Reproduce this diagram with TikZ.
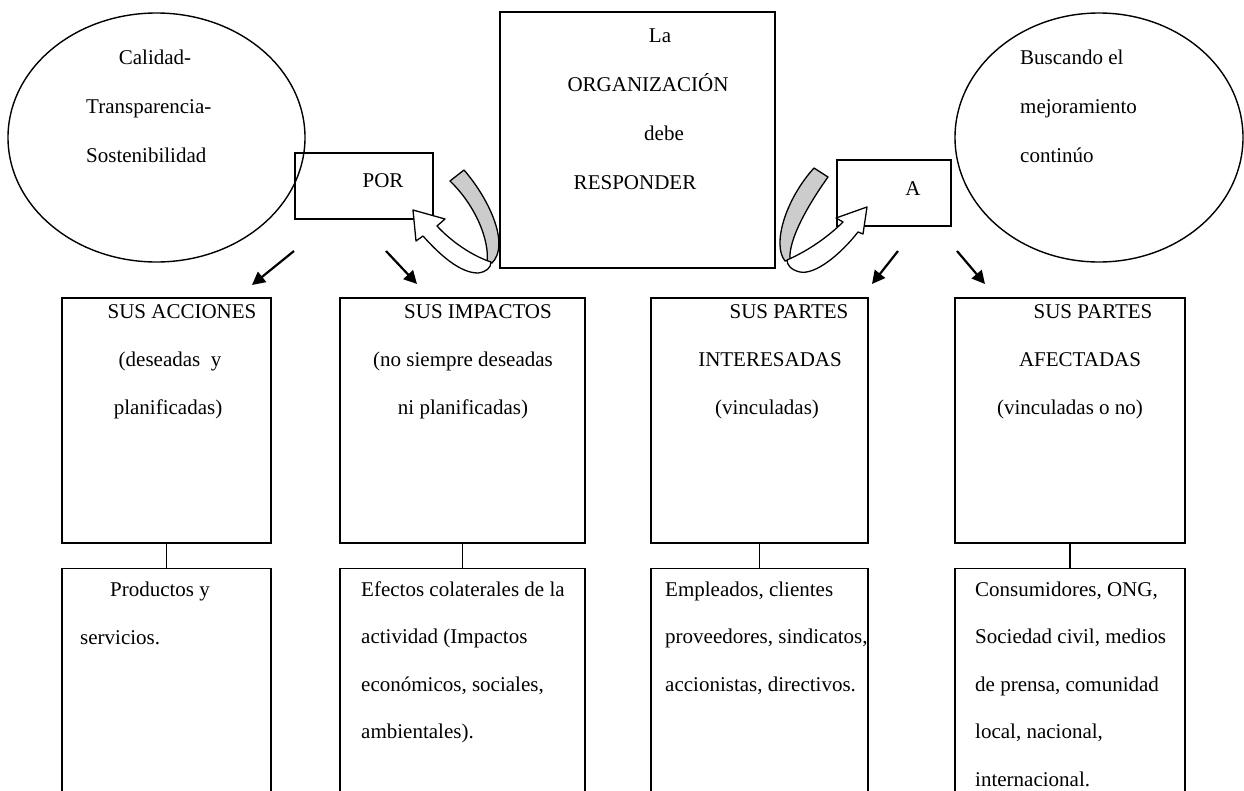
\documentclass[tikz,border=0pt]{standalone}
\usepackage{fontspec}
\setmainfont{Liberation Serif}
\usetikzlibrary{shapes.geometric,arrows.meta}
\begin{document}
\begin{tikzpicture}[x=1pt,y=-1pt,
  txt/.style={font=\fontsize{21}{25}\selectfont, inner sep=0pt},
  box/.style={draw, line width=1.4pt, rectangle, inner sep=0pt},
  oval/.style={draw, line width=1.4pt, ellipse, inner sep=0pt},
  smallarrow/.style={line width=2.2pt, -{Triangle[length=13pt,width=13pt]}},
  link/.style={line width=1.4pt},
  ribbonback/.style={draw, fill=black!20, line width=1.3pt, line join=round},
  ribbonfront/.style={draw, fill=white, line width=1.3pt, line join=round},
]
\clip (0,0) rectangle (1244,790);
\fill[white] (0,0) rectangle (1244,790);

% ellipses
\node[oval, minimum width=297, minimum height=249] (q1) at (156.5,137.5) {};
\node[oval, minimum width=288, minimum height=249] (q2) at (1099,137.5) {};
\node[txt, anchor=base] (q1t0) at (155,64) {Calidad-};
\node[txt, anchor=base west] (q1t1) at (86,113) {Transparencia-};
\node[txt, anchor=base west] (q1t2) at (86,162) {Sostenibilidad};
\foreach \t [count=\i from 0] in {Buscando el, mejoramiento, continúo}
  \node[txt, anchor=base west] (q2t\i) at (1020,{64+49*\i}) {\t};

% central box
\node[box, minimum width=275, minimum height=256] (org) at (637.5,140) {};
\node[txt, anchor=base] (org0) at (660,42) {La};
\node[txt, anchor=base] (org1) at (648,91) {ORGANIZACIÓN};
\node[txt, anchor=base] (org2) at (664,140) {debe};
\node[txt, anchor=base] (org3) at (635,189) {RESPONDER};

% POR and A boxes
\node[box, minimum width=138, minimum height=66] (por) at (364,186) {};
\node[txt, anchor=base] (port) at (383,187) {POR};
\node[box, minimum width=114, minimum height=66] (a) at (894,193) {};
\node[txt, anchor=base] (at) at (913,195) {A};

% left curved ribbon arrow
\path[ribbonback] (450,181) -- (464,170)
  .. controls (490,200) and (510,245) .. (492,263)
  -- (487,263) .. controls (490,240) and (475,205) .. cycle;
\path[ribbonfront] (491,262) .. controls (470,255) and (450,240) .. (437,226)
  -- (445,219) -- (413,210) -- (416,241) -- (423,236)
  .. controls (440,255) and (460,273) .. (478,273)
  .. controls (486,272) and (491,268) .. cycle;

% right curved ribbon arrow
\path[ribbonback] (814,168) -- (828,177)
  .. controls (808,205) and (788,240) .. (790,260)
  -- (785,261) .. controls (772,245) and (785,200) .. cycle;
\path[ribbonfront] (787,260) .. controls (810,250) and (830,235) .. (843,222)
  -- (836,218) -- (867,207) -- (863,234) -- (858,232)
  .. controls (840,255) and (815,275) .. (800,272)
  .. controls (791,270) and (787,265) .. cycle;

% small arrows
\coordinate (s1) at (294,251); \coordinate (e1) at (252,285);
\coordinate (s2) at (386,251); \coordinate (e2) at (417,284);
\coordinate (s3) at (898,251); \coordinate (e3) at (872,284);
\coordinate (s4) at (957,251); \coordinate (e4) at (985,284);
\draw[smallarrow] (s1) -- (e1);
\draw[smallarrow] (s2) -- (e2);
\draw[smallarrow] (s3) -- (e3);
\draw[smallarrow] (s4) -- (e4);

% top boxes
\node[box, minimum width=209, minimum height=245] (t1) at (166.5,420.5) {};
\node[box, minimum width=245, minimum height=245] (t2) at (462.5,420.5) {};
\node[box, minimum width=217, minimum height=245] (t3) at (759.5,420.5) {};
\node[box, minimum width=230, minimum height=245] (t4) at (1070,420.5) {};

\node[txt, anchor=base] (t1a) at (182,318) {SUS ACCIONES};
\node[txt, anchor=base] (t1b) at (170,366) {(deseadas\ \ y};
\node[txt, anchor=base] (t1c) at (168,414) {planificadas)};
\node[txt, anchor=base] (t2a) at (478,318) {SUS IMPACTOS};
\node[txt, anchor=base] (t2b) at (463,366) {(no siempre deseadas};
\node[txt, anchor=base] (t2c) at (463,414) {ni planificadas)};
\node[txt, anchor=base] (t3a) at (789,318) {SUS PARTES};
\node[txt, anchor=base] (t3b) at (770,366) {INTERESADAS};
\node[txt, anchor=base] (t3c) at (767,414) {(vinculadas)};
\node[txt, anchor=base] (t4a) at (1093,318) {SUS PARTES};
\node[txt, anchor=base] (t4b) at (1080,366) {AFECTADAS};
\node[txt, anchor=base] (t4c) at (1070,414) {(vinculadas o no)};

% bottom boxes (open at the bottom edge of the picture)
\node[box, minimum width=209, minimum height=250, anchor=north] (b1) at (166.5,568) {};
\node[box, minimum width=245, minimum height=250, anchor=north] (b2) at (462.5,568) {};
\node[box, minimum width=217, minimum height=250, anchor=north] (b3) at (759.5,568) {};
\node[box, minimum width=230, minimum height=250, anchor=north] (b4) at (1070,568) {};

\draw[link] (t1.south) -- (b1.north);
\draw[link] (t2.south) -- (b2.north);
\draw[link] (t3.south) -- (b3.north);
\draw[link] (t4.south) -- (b4.north);

\node[txt, anchor=base] (b1a) at (160,596) {Productos y};
\node[txt, anchor=base west] (b1b) at (80,644) {servicios.};
\foreach \t [count=\i from 0] in {Efectos colaterales de la, actividad (Impactos, {económicos, sociales,}, ambientales).}
  \node[txt, anchor=base west] (b2t\i) at (361,{596+47.5*\i}) {\t};
\foreach \t [count=\i from 0] in {{Empleados, clientes}, {proveedores, sindicatos,}, {accionistas, directivos.}}
  \node[txt, anchor=base west] (b3t\i) at (665,{596+47.5*\i}) {\t};
\foreach \t [count=\i from 0] in {{Consumidores, ONG,}, {Sociedad civil, medios}, {de prensa, comunidad}, {local, nacional,}, internacional.}
  \node[txt, anchor=base west] (b4t\i) at (975,{596+47.5*\i}) {\t};
\end{tikzpicture}
\end{document}
